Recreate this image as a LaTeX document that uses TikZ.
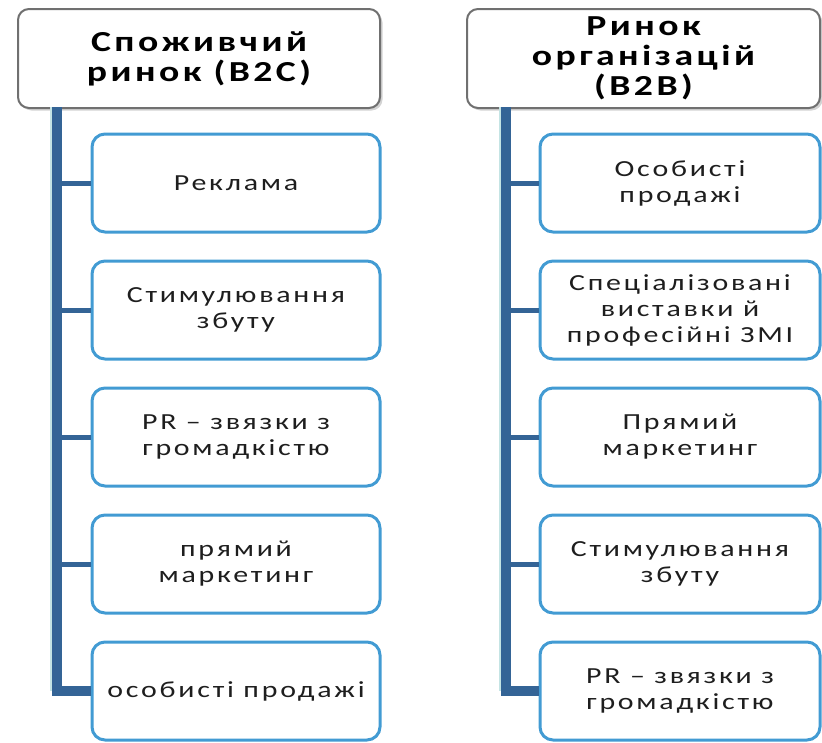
\documentclass[tikz,border=0pt]{standalone}
\usepackage{fontspec}
\setmainfont{Carlito}[FakeStretch=1.3, LetterSpace=12]
\usetikzlibrary{shadows}
\definecolor{boxblue}{RGB}{66,155,211}
\definecolor{trunkblue}{RGB}{52,100,150}
\definecolor{headgray}{RGB}{112,112,112}
\definecolor{inkgray}{RGB}{30,30,30}
\definecolor{edgecyan}{RGB}{196,228,228}
\tikzset{
  header/.style={draw=headgray, line width=2pt, rounded corners=11pt, fill=white,
    drop shadow={opacity=0.35, shadow xshift=2.5pt, shadow yshift=-2.5pt},
    align=center, text=black, font=\fontsize{29}{30}\selectfont\bfseries,
    inner sep=0pt},
  item/.style={draw=boxblue, line width=3pt, rounded corners=13pt, fill=white,
    align=center, text=inkgray, font=\fontsize{23}{26}\selectfont,
    inner sep=0pt},
  trunk/.style={draw=trunkblue, line width=10pt},
  branch/.style={draw=trunkblue, line width=5pt},
  trunkedge/.style={draw=edgecyan, line width=2pt}
}
\begin{document}
\begin{tikzpicture}[x=1pt,y=-1pt]
\useasboundingbox (0,0) rectangle (822,742);

% column headers
\node[header, minimum width=362pt, minimum height=99pt] (hL) at (199,58.5)
  {Споживчий\\ринок (B2C)};
\node[header, minimum width=353pt, minimum height=99pt] (hR) at (643.5,58.5)
  {Ринок\\організацій\\(B2B)};

% left column items
\foreach \i/\t in {1/{Реклама}, 2/{Стимулювання\\збуту},
                   3/{PR – звязки з\\громадкістю}, 4/{прямий\\маркетинг},
                   5/{особисті продажі}} {
  \node[item, minimum width=288pt, minimum height=98pt] (l\i)
    at (236,{183+127*(\i-1)}) {\t};
}
% right column items
\foreach \i/\t in {1/{Особисті\\продажі}, 2/{Спеціалізовані\\виставки й\\професійні ЗМІ},
                   3/{Прямий\\маркетинг}, 4/{Стимулювання\\збуту},
                   5/{PR – звязки з\\громадкістю}} {
  \node[item, minimum width=280pt, minimum height=98pt] (r\i)
    at (680,{183+127*(\i-1)}) {\t};
}

% trunk lines
\coordinate (tLtop) at (57,107);
\coordinate (tLbot) at (57,691);
\coordinate (tRtop) at (506,107);
\coordinate (tRbot) at (506,691);

\draw[trunkedge] ([xshift=-6pt]tLtop) -- ([xshift=-6pt]tLbot);
\draw[trunkedge] ([xshift=-6pt]tRtop) -- ([xshift=-6pt]tRbot);

\foreach \i in {1,...,4} {
  \draw[branch] (tLtop |- l\i.west) -- (l\i.west);
  \draw[branch] (tRtop |- r\i.west) -- (r\i.west);
}
\draw[trunk] (tLtop) -- (tLtop |- l5.west) -- (l5.west);
\draw[trunk] (tRtop) -- (tRtop |- r5.west) -- (r5.west);
\end{tikzpicture}
\end{document}
